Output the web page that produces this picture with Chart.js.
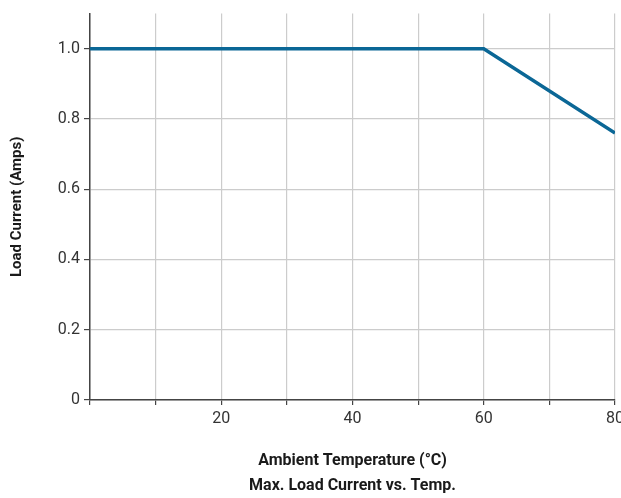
<!DOCTYPE html>
<html>
<head>
<meta charset="utf-8">
<script src="https://cdn.jsdelivr.net/npm/chart.js@4.4.1/dist/chart.umd.min.js"></script>
<style>
  html, body { margin: 0; padding: 0; background: #fff; }
  #wrap { width: 621px; height: 498px; }
</style>
</head>
<body>
<div id="wrap"><canvas id="grafica"></canvas></div>
<script>
// datos
const temperaturas = [0, 60, 80];
const corrienteMax = [1.0, 1.0, 0.76];
const etiquetasX = [20, 40, 60, 80];
const tituloX = 'Ambient Temperature (°C)';
const tituloGrafica = 'Max. Load Current vs. Temp.';
const tituloY = 'Load Current (Amps)';

const fuente = "'Liberation Sans Narrow', 'Roboto', sans-serif";
const colorEje = '#444';
const colorRejilla = '#cccccc';

const ctx = document.getElementById('grafica').getContext('2d');
const grafica = new Chart(ctx, {
  type: 'line',
  data: {
    datasets: [{
      label: 'Max. Load Current',
      data: temperaturas.map((t, i) => ({ x: t, y: corrienteMax[i] })),
      borderColor: '#0b6796',
      borderWidth: 3.5,
      pointRadius: 0,
      tension: 0,
      fill: false
    }]
  },
  options: {
    responsive: true,
    maintainAspectRatio: false,
    animation: false,
    layout: { padding: { top: 10, right: 6, left: 0, bottom: 0 } },
    plugins: {
      legend: { display: false },
      tooltip: { enabled: false }
    },
    scales: {
      x: {
        type: 'linear',
        min: 0,
        max: 80,
        border: { color: colorEje, width: 1.5 },
        grid: { color: colorRejilla, tickColor: colorEje, tickLength: 5, lineWidth: 1.2 },
        ticks: {
          stepSize: 10,
          padding: 4,
          color: '#333',
          maxRotation: 0,
          autoSkip: false,
          font: { family: fuente, size: 16 },
          callback: v => etiquetasX.includes(v) ? String(v) : ''
        },
        title: {
          display: true,
          text: [tituloX, tituloGrafica],
          color: '#1a1a1a',
          font: { family: fuente, size: 16, weight: 'bold', lineHeight: '25px' },
          padding: { top: 0, bottom: 0 }
        },
        afterFit: scale => {
          scale.height = 98;
          scale.paddingRight = 0;
          scale.paddingLeft = 0;
        }
      },
      y: {
        min: 0,
        max: 1.1,
        border: { color: colorEje, width: 1.5 },
        grid: { color: colorRejilla, tickColor: colorEje, tickLength: 6, lineWidth: 1.2 },
        afterBuildTicks: scale => {
          scale.ticks = scale.ticks.filter(t => t.value <= 1.0001);
        },
        ticks: {
          stepSize: 0.2,
          padding: 4,
          color: '#333',
          font: { family: fuente, size: 16 },
          callback: v => v === 0 ? '0' : v.toFixed(1)
        },
        title: {
          display: true,
          text: tituloY,
          color: '#1a1a1a',
          font: { family: fuente, size: 15, weight: 'bold' },
          padding: { top: 8, bottom: 0 }
        },
        afterFit: scale => {
          scale.width = 90;
        }
      }
    }
  }
});
</script>
</body>
</html>
